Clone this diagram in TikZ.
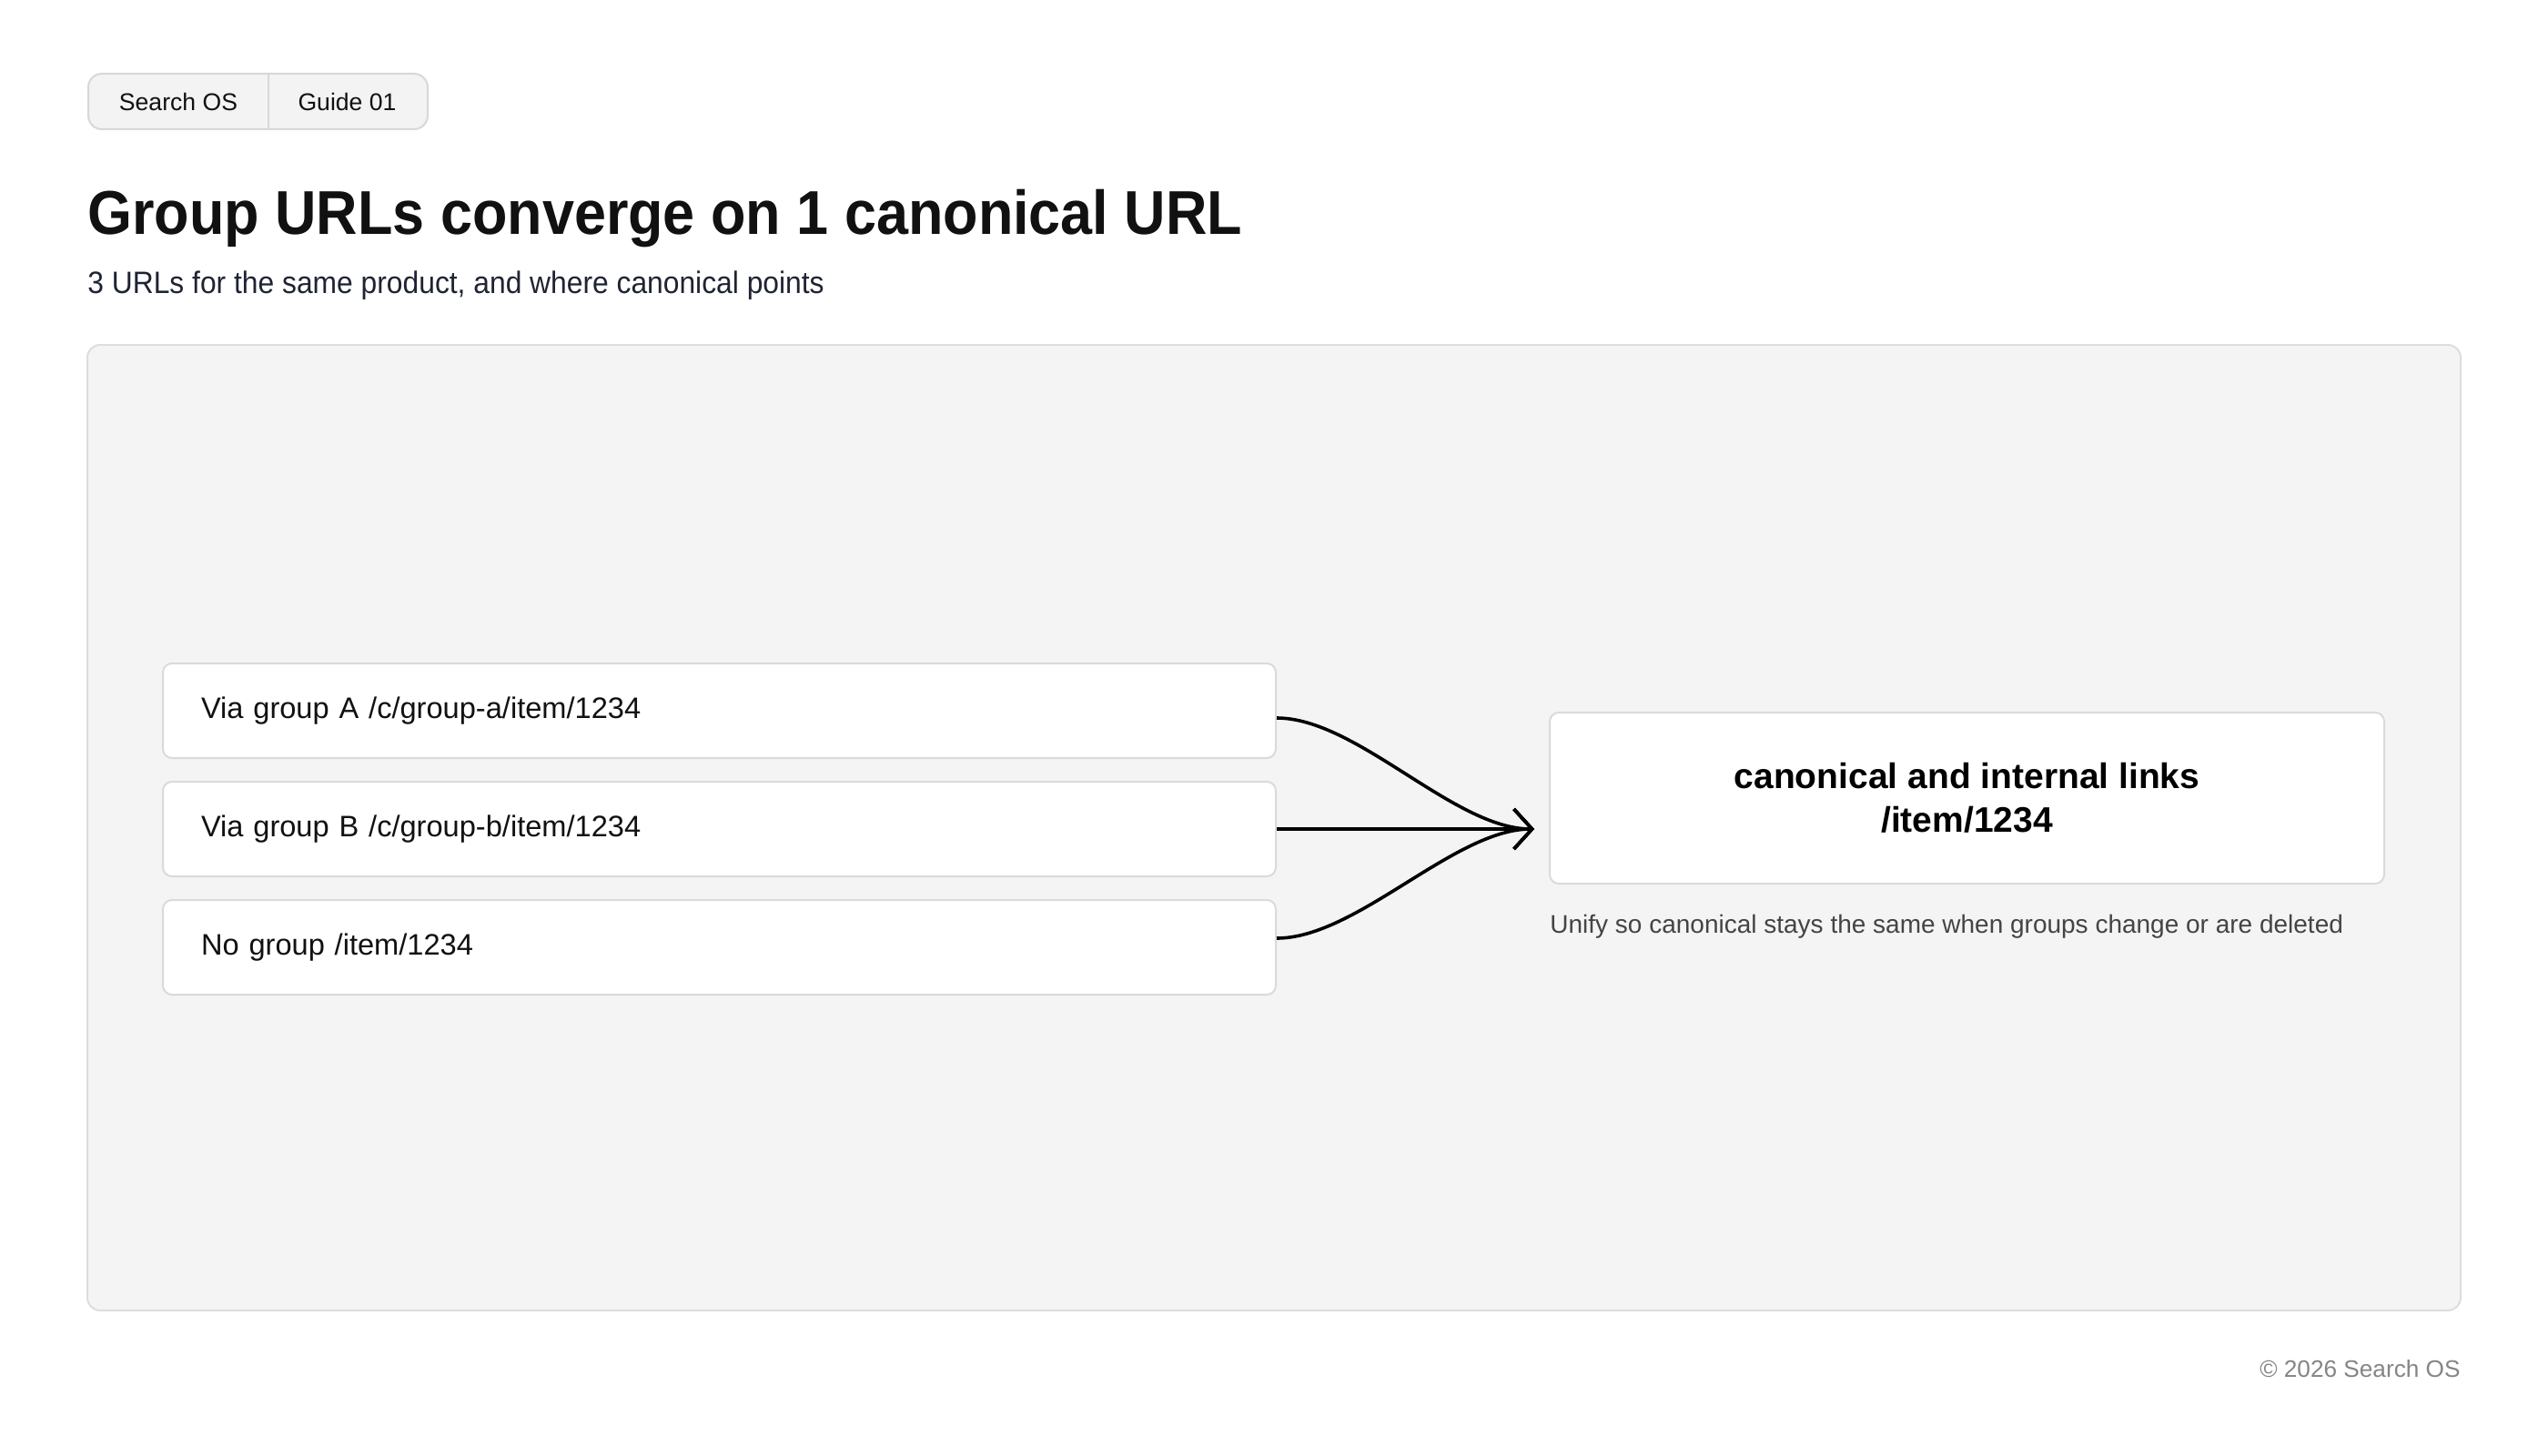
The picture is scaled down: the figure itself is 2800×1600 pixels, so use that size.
\documentclass[tikz,border=0pt]{standalone}
\usepackage{fontspec}
\setmainfont{Liberation Sans}
\newfontfamily\titlefont{Liberation Sans}[FakeStretch=0.925]
\newfontfamily\subfont{Liberation Sans}[FakeStretch=0.935]
\usetikzlibrary{arrows.meta,calc}
\definecolor{panelfill}{HTML}{F4F4F4}
\definecolor{panelline}{HTML}{DDDDDD}
\definecolor{boxline}{HTML}{DADADA}
\definecolor{pillfill}{HTML}{F3F3F3}
\definecolor{pillline}{HTML}{D8D8D8}
\definecolor{inkdark}{HTML}{111111}
\definecolor{subink}{HTML}{1F2433}
\definecolor{capink}{HTML}{444444}
\definecolor{footink}{HTML}{858585}
\tikzset{
  panel/.style={fill=panelfill, draw=panelline, line width=1pt, rounded corners=7pt},
  pillshape/.style={fill=pillfill, draw=pillline, line width=1pt, rounded corners=7.5pt},
  pilltext/.style={anchor=base, inner sep=0pt, font=\fontsize{13.3}{16}\selectfont, text=inkdark},
  srcbox/.style={draw=boxline, fill=white, line width=1pt, rounded corners=5pt,
    minimum height=52pt, text width=569.5pt, inner xsep=21pt, inner ysep=0pt,
    align=left, anchor=north west, font=\fontsize{16.3}{19}\selectfont, text=inkdark},
  dstbox/.style={draw=boxline, fill=white, line width=1pt, rounded corners=5pt,
    minimum width=458.5pt, minimum height=94pt, align=center, inner sep=0pt,
    font=\bfseries\fontsize{19.5}{24}\selectfont, text=black},
  conn/.style={draw=black, line width=1.8pt, -{Straight Barb[length=10pt,width=22pt]}}
}
\begin{document}
\begin{tikzpicture}[x=0.5pt,y=-0.5pt]
\fill[white] (0,0) rectangle (2800,1600);
\path[use as bounding box] (0,0) rectangle (2800,1600);

% header pill
\draw[pillshape] (97,81) rectangle (470,142);
\draw[pillline, line width=1pt] (295,81) -- (295,142);
\node[pilltext] (p1) at (196,122) {Search OS};
\node[pilltext] (p2) at (381.5,122) {Guide 01};

% title and subtitle
\node[anchor=base west, inner sep=0pt, text=inkdark, font=\titlefont\bfseries\fontsize{34}{40}\selectfont] (title) at (96,257) {Group URLs converge on 1 canonical URL};
\node[anchor=base west, inner sep=0pt, text=subink, font=\subfont\fontsize{17}{20}\selectfont] (subtitle) at (96,322) {3 URLs for the same product, and where canonical points};

% panel
\draw[panel] (96,379) rectangle (2704,1440);

% source boxes
\node[srcbox] (A) at (178,728) {Via group A /c/group-a/item/1234};
\node[srcbox] (B) at (178,858) {Via group B /c/group-b/item/1234};
\node[srcbox] (C) at (178,988) {No group /item/1234};

% destination
\node[dstbox] (R) at (2161.5,877) {canonical and internal links\\/item/1234};
\node[anchor=base west, inner sep=0pt, text=capink, font=\fontsize{14}{17}\selectfont] (cap) at (1703,1025) {Unify so canonical stays the same when groups change or are deleted};

% connectors
\coordinate (tip) at ([xshift=-8pt]R.west |- B.east);
\draw[conn] ([yshift=-4pt]A.east) to[out=0,in=180,looseness=0.73] (tip);
\draw[conn] (B.east) -- (tip);
\draw[conn] ([yshift=5pt]C.east) to[out=0,in=180,looseness=0.73] (tip);

% footer
\node[anchor=base east, inner sep=0pt, text=footink, font=\fontsize{13.1}{16}\selectfont] (foot) at (2704,1513) {© 2026 Search OS};
\end{tikzpicture}
\end{document}
